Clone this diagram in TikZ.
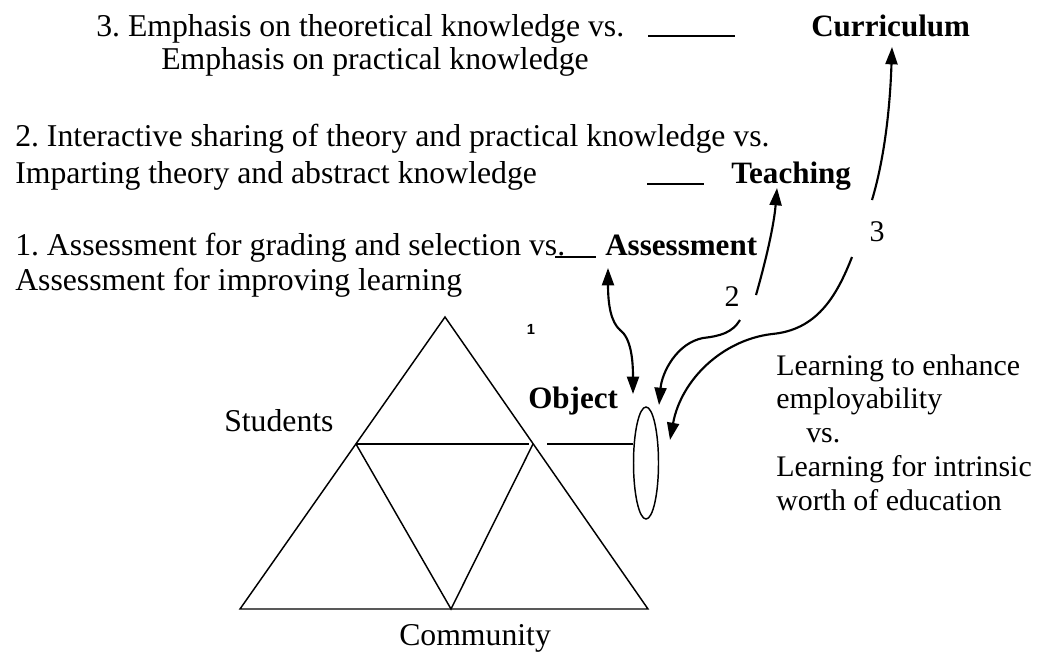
\documentclass[tikz,border=0pt]{standalone}
\usepackage{fontspec}
\setmainfont{Liberation Serif}
\newfontfamily\sansf{Liberation Sans}
\usetikzlibrary{arrows.meta,shapes.geometric}
\begin{document}
\frenchspacing
\begin{tikzpicture}[x=0.75pt,y=-0.75pt,
  txt/.style={anchor=base west,inner sep=0pt,font=\fontsize{23.8}{26}\selectfont},
  rtxt/.style={anchor=base west,inner sep=0pt,font=\fontsize{22.4}{26}\selectfont},
  bold/.style={txt,font=\fontsize{23.3}{26}\selectfont\bfseries},
  num/.style={anchor=center,inner sep=0pt,font=\fontsize{22.5}{26}\selectfont},
  edge/.style={line width=1.1pt},
  arr/.style={line width=1.6pt,-{Triangle[length=13pt,width=9pt]}},
  darr/.style={line width=1.6pt,{Triangle[length=13pt,width=9pt]}-{Triangle[length=13pt,width=9pt]}}]
\useasboundingbox (0,0) rectangle (1037,654);
% texts
\node[txt] (t3a) at (96,36) {3. Emphasis on theoretical knowledge vs.};
\node[txt] (t3b) at (161,69) {Emphasis on practical knowledge};
\node[bold] (cur) at (811,36) {Curriculum};
\node[txt] (t2a) at (15,146) {2. Interactive sharing of theory and practical knowledge vs.};
\node[txt] (t2b) at (15,183) {Imparting theory and abstract knowledge};
\node[bold] (tea) at (731,183) {Teaching};
\node[txt] (t1a) at (15,255) {1. Assessment for grading and selection vs.};
\node[txt] (t1b) at (15,290) {Assessment for improving learning};
\node[bold] (ass) at (605,255) {Assessment};
\node[rtxt] (r1) at (776,375) {Learning to enhance};
\node[rtxt] (r2) at (776,408) {employability};
\node[rtxt] (r3) at (806,442) {vs.};
\node[rtxt] (r4) at (776,476) {Learning for intrinsic};
\node[rtxt] (r5) at (776,510) {worth of education};
\node[txt] (stu) at (224,431) {Students};
\node[txt] (com) at (399,645) {Community};
\node[bold] (obj) at (528,408) {Object};
\node[anchor=center,inner sep=0pt,font=\sansf\bfseries\fontsize{11}{12}\selectfont] (n1) at (531,329) {1};
\node[num] (n2) at (732,297) {2};
\node[num] (n3) at (877,232) {3};
% dashes after vs.
\coordinate (d3a) at (648,36); \coordinate (d3b) at (735,36);
\coordinate (d2a) at (647,184); \coordinate (d2b) at (704,184);
\coordinate (d1a) at (555,257); \coordinate (d1b) at (596,257);
\draw[edge] (d3a) -- (d3b);
\draw[edge] (d2a) -- (d2b);
\draw[edge] (d1a) -- (d1b);
% triangle
\coordinate (A) at (445,317);
\coordinate (BL) at (240,609);
\coordinate (BR) at (648,609);
\coordinate (ML) at (356,444);
\coordinate (MR) at (533,444);
\coordinate (MRg) at (529,444);
\coordinate (MB) at (451,609);
\draw[edge,line join=miter] (A) -- (BL) -- (BR) -- cycle;
\draw[edge] (ML) -- (MRg);
\draw[edge] (ML) -- (MB) -- (MR);
% ellipse
\node[draw,line width=1.1pt,ellipse,minimum width=18.75pt,minimum height=84pt,inner sep=0pt] (ell) at (646,463) {};
\coordinate (ol) at (547,444);
\draw[edge] (ol) -- (ol -| ell.west);
% arrows
\coordinate (a1s) at (608,268); \coordinate (a1e) at (633,394);
\draw[darr] (a1s) .. controls (608,305) and (611,322) .. (620,330) .. controls (631,338) and (633,360) .. (a1e);
\coordinate (a2s) at (740,320); \coordinate (a2e) at (659,405);
\draw[arr] (a2s) .. controls (732,333) and (720,336) .. (703,338) .. controls (677,343) and (662,372) .. (a2e);
\coordinate (a3s) at (852,257); \coordinate (a3e) at (670,440);
\draw[arr] (a3s) .. controls (836,298) and (816,330) .. (772,334) .. controls (722,340) and (681,380) .. (a3e);
\coordinate (a4s) at (756,295); \coordinate (a4e) at (777,188);
\draw[arr] (a4s) .. controls (766,260) and (774,225) .. (a4e);
\coordinate (a5s) at (872,200); \coordinate (a5e) at (892,47);
\draw[arr] (a5s) .. controls (884,160) and (890,110) .. (a5e);
\end{tikzpicture}
\end{document}
